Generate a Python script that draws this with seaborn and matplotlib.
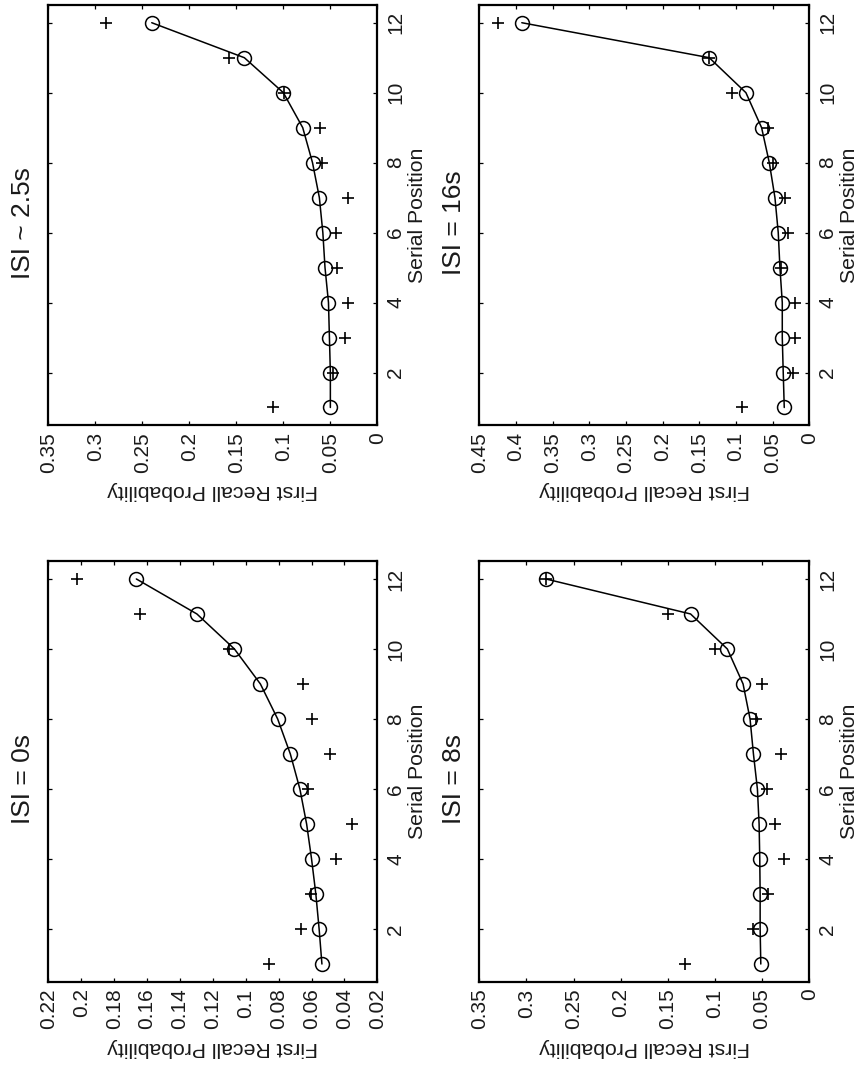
import numpy as np
import pandas as pd
import matplotlib
matplotlib.use("Agg")
import matplotlib.pyplot as plt
import seaborn as sns

# ---------------- data ----------------
serial_pos = [1, 2, 3, 4, 5, 6, 7, 8, 9, 10, 11, 12]

titles = ["ISI ~ 2.5s", "ISI = 16s", "ISI = 0s", "ISI = 8s"]

model_25 = [0.050, 0.050, 0.051, 0.052, 0.0557, 0.058, 0.0617, 0.069, 0.0794, 0.100, 0.1415, 0.240]
data_25 = [0.1113, 0.0468, 0.0344, 0.0308, 0.0426, 0.044, 0.0316, 0.0592, 0.061, 0.0993, 0.158, 0.2886]

model_16 = [0.0341, 0.0355, 0.0368, 0.0368, 0.040, 0.0423, 0.0468, 0.0545, 0.065, 0.0864, 0.1364, 0.392]
data_16 = [0.0923, 0.0218, 0.0195, 0.0195, 0.039, 0.0286, 0.0332, 0.049, 0.0559, 0.1059, 0.1364, 0.424]

model_0 = [0.0537, 0.0554, 0.0574, 0.060, 0.063, 0.0671, 0.0729, 0.0806, 0.0911, 0.1069, 0.1297, 0.1665]
data_0 = [0.0857, 0.0665, 0.0604, 0.0453, 0.0352, 0.0624, 0.0489, 0.0598, 0.0655, 0.1099, 0.1644, 0.2024]

model_8 = [0.0514, 0.0521, 0.0521, 0.0525, 0.0532, 0.055, 0.0592, 0.0628, 0.0702, 0.0869, 0.1259, 0.2794]
data_8 = [0.1319, 0.0592, 0.0436, 0.0266, 0.0362, 0.0443, 0.0301, 0.0567, 0.0496, 0.1004, 0.150, 0.2794]

prob_ticks_25 = [0, 0.05, 0.1, 0.15, 0.2, 0.25, 0.3, 0.35]
prob_ticks_16 = [0, 0.05, 0.1, 0.15, 0.2, 0.25, 0.3, 0.35, 0.4, 0.45]
prob_ticks_0 = [0.02, 0.04, 0.06, 0.08, 0.1, 0.12, 0.14, 0.16, 0.18, 0.2, 0.22]
prob_ticks_8 = [0, 0.05, 0.1, 0.15, 0.2, 0.25, 0.3, 0.35]

serial_ticks = [2, 4, 6, 8, 10, 12]

x_label = "First Recall Probability"
y_label = "Serial Position"

# ---------------- style ----------------
sns.set_theme(style="white")
plt.rcParams["font.family"] = ["Liberation Sans", "DejaVu Sans"]
plt.rcParams["axes.edgecolor"] = "black"
plt.rcParams["axes.linewidth"] = 1.6
plt.rcParams["text.color"] = "#1a1a1a"
plt.rcParams["axes.labelcolor"] = "#1a1a1a"
plt.rcParams["xtick.color"] = "black"
plt.rcParams["ytick.color"] = "black"
plt.rcParams["xtick.labelcolor"] = "#1a1a1a"
plt.rcParams["ytick.labelcolor"] = "#1a1a1a"

fig = plt.figure(figsize=(8.6, 10.67), dpi=100)

positions = [
    [0.0562, 0.6017, 0.3826, 0.3934],
    [0.5573, 0.6017, 0.3837, 0.3934],
    [0.0562, 0.0801, 0.3826, 0.3937],
    [0.5573, 0.0801, 0.3837, 0.3937],
]
models = [model_25, model_16, model_0, model_8]
datas = [data_25, data_16, data_0, data_8]
ticks = [prob_ticks_25, prob_ticks_16, prob_ticks_0, prob_ticks_8]

for pos, title, mod, dat, tk in zip(positions, titles, models, datas, ticks):
    ax = fig.add_axes(pos)
    df = pd.DataFrame({"pos": serial_pos, "model": mod, "data": dat})
    sns.lineplot(data=df, x="model", y="pos", sort=False, estimator=None,
                 color="black", linewidth=1.1, marker="o", markersize=10,
                 markerfacecolor="none", markeredgecolor="black",
                 markeredgewidth=1.1, ax=ax)
    sns.scatterplot(data=df, x="data", y="pos", marker="+", s=78,
                    color="black", linewidth=1.2, ax=ax)

    ax.set_xlim(tk[-1], tk[0])
    ax.set_ylim(0.5, 12.5)
    ax.set_xticks(tk)
    ax.set_xticklabels([f"{v:g}" for v in tk], rotation=90, va="top", ha="center")
    ax.set_yticks(serial_ticks)
    ax.yaxis.tick_right()
    ax.yaxis.set_label_position("right")
    ax.set_yticklabels([str(v) for v in serial_ticks], rotation=90, va="center")
    ax.tick_params(axis="x", direction="in", top=True, bottom=True,
                   length=2.6, width=0.9, pad=5, labelsize=15)
    ax.tick_params(axis="y", direction="in", left=True, right=True,
                   labelleft=False, labelright=True,
                   length=2.6, width=0.9, pad=6.5, labelsize=15)
    ax.set_xlabel(x_label, rotation=180, fontsize=15.3, labelpad=6)
    ax.set_ylabel(y_label, fontsize=15.3, labelpad=2)
    for s in ax.spines.values():
        s.set_visible(True)
        s.set_color("black")
        s.set_linewidth(1.6)
    ax.text(-0.0775, 0.482, title, transform=ax.transAxes, rotation=90,
            ha="center", va="center", fontsize=19)

fig.savefig("out.png", dpi=100)
